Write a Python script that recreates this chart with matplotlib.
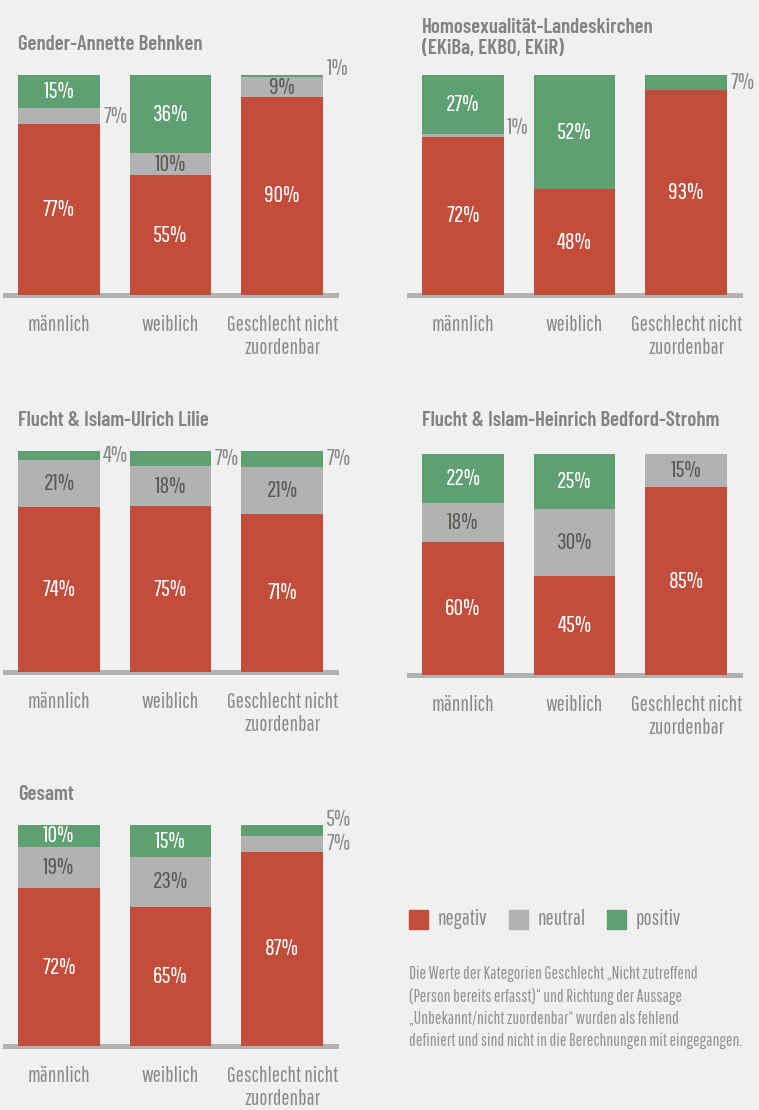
import matplotlib
matplotlib.use("Agg")
import matplotlib.pyplot as plt
from matplotlib import font_manager

# --- data ---------------------------------------------------------------
categories = ["männlich", "weiblich", "Geschlecht nicht\nzuordenbar"]
series = ["negativ", "neutral", "positiv"]

titles = [
    "Gender-Annette Behnken",
    "Homosexualität-Landeskirchen\n(EKiBa, EKBO, EKiR)",
    "Flucht & Islam-Ulrich Lilie",
    "Flucht & Islam-Heinrich Bedford-Strohm",
    "Gesamt",
]
negativ = [[77, 55, 90], [72, 48, 93], [74, 75, 71], [60, 45, 85], [72, 65, 87]]
neutral = [[7, 10, 9], [1, 0, 0], [21, 18, 21], [18, 30, 15], [19, 23, 7]]
positiv = [[15, 36, 1], [27, 52, 7], [4, 7, 7], [22, 25, 0], [10, 15, 5]]

footnote = ("Die Werte der Kategorien Geschlecht „Nicht zutreffend\n"
            "(Person bereits erfasst)“ und Richtung der Aussage\n"
            "„Unbekannt/nicht zuordenbar“ wurden als fehlend\n"
            "definiert und sind nicht in die Berechnungen mit eingegangen.")

# --- style --------------------------------------------------------------
available = {f.name for f in font_manager.fontManager.ttflist}
FONT = next((f for f in ["Pathway Gothic One", "Abel", "Roboto Condensed",
                         "DejaVu Sans"] if f in available))
TFONT = next((f for f in ["Barlow Condensed", "Sofia Sans Condensed",
                          "Roboto Condensed", "DejaVu Sans"] if f in available))
plt.rcParams["font.family"] = [FONT, "DejaVu Sans"]

BG = "#f0f0f0"
COLORS = {"negativ": "#c34c3b", "neutral": "#b2b2b2", "positiv": "#5fa072"}
INNER_TEXT = {"negativ": "white", "neutral": "#5d5853", "positiv": "white"}
GREY_TEXT = "#8a8a8a"
TITLE_COLOR = "#838383"

W, H = 759, 1110
# (left, right, top of bars, baseline) in pixels
PANELS = [(5, 336, 75, 295), (409, 740, 75, 295),
          (5, 336, 451, 672), (409, 740, 454, 675),
          (5, 336, 825, 1046)]
TITLE_Y = [44, 18, 421, 421, 794]
BAR_W = 0.732

fig = plt.figure(figsize=(W / 100, H / 100), dpi=100, facecolor=BG)

for p, (x0, x1, ytop, ybase) in enumerate(PANELS):
    ax = fig.add_axes([x0 / W, 1 - ybase / H, (x1 - x0) / W, (ybase - ytop) / H])
    ax.set_facecolor(BG)
    ax.set_xlim(-0.482, 2.482)
    ax.set_ylim(0, 100)
    ax.axis("off")
    ax.axhline(0, color="#b2b2b2", lw=3.6, zorder=1, clip_on=False)

    vals = {"negativ": negativ[p], "neutral": neutral[p], "positiv": positiv[p]}
    for i, cat in enumerate(categories):
        total = sum(vals[s][i] for s in series)
        bottom = 0.0
        prev_outside = False
        for s in series:
            v = vals[s][i]
            h = v / total * 100
            ax.bar(i, h, BAR_W, bottom=bottom, color=COLORS[s], zorder=2)
            mid = bottom + h / 2
            if v >= 8:
                # big enough segment: label inside
                ax.text(i, mid, f"{v}%", ha="center", va="center",
                        color=INNER_TEXT[s], fontsize=17, zorder=3)
                prev_outside = False
            elif v > 0:
                # small segment: label to the right, nudged up if crowded
                y = mid
                if v <= 2:
                    y += 3.5
                if prev_outside:
                    y += 5
                ax.text(i + BAR_W / 2 + 0.03, y, f"{v}%", ha="left", va="center",
                        color=GREY_TEXT, fontsize=17, clip_on=False)
                prev_outside = True
            bottom += h

        ax.text(i, -9, cat, ha="center", va="top", color=GREY_TEXT,
                fontsize=15.5, linespacing=1.2, clip_on=False)

    fig.text((x0 + 13) / W, 1 - TITLE_Y[p] / H, titles[p], ha="left",
             va="top" if "\n" in titles[p] else "center", family=[TFONT, "DejaVu Sans"],
             color=TITLE_COLOR, fontsize=15, fontweight="semibold", linespacing=1.15)

# legend
lx = [409, 509, 607]
for x, s in zip(lx, series):
    fig.patches.append(plt.Rectangle((x / W, 1 - 929 / H), 19 / W, 19 / H,
                                     transform=fig.transFigure, color=COLORS[s]))
    fig.text((x + 29) / W, 1 - 919 / H, s, ha="left", va="center",
             color=GREY_TEXT, fontsize=15.5)

fig.text(409 / W, 1 - 966 / H, footnote, ha="left", va="top",
         color="#939393", fontsize=12.5, linespacing=1.45)

fig.savefig("out.png", dpi=100, facecolor=BG)
